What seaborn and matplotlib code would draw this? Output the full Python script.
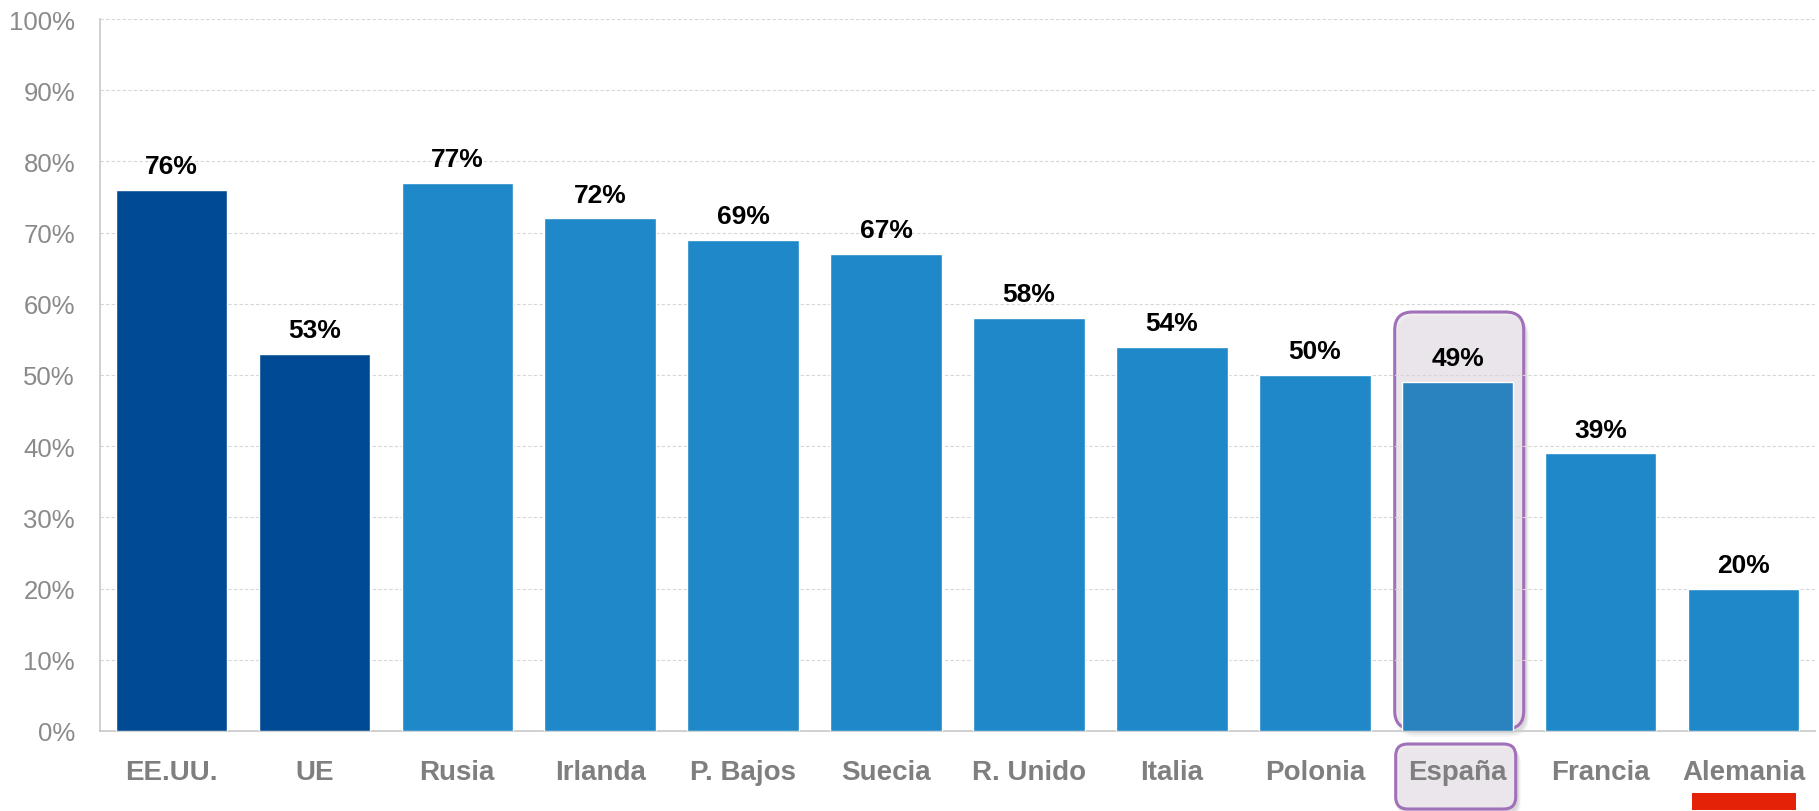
import matplotlib
matplotlib.use("Agg")
import matplotlib.pyplot as plt
import seaborn as sns
import numpy as np
from matplotlib.patches import FancyBboxPatch, Rectangle
from matplotlib.ticker import FuncFormatter, MultipleLocator

countries = ["EE.UU.", "UE", "Rusia", "Irlanda", "P. Bajos", "Suecia",
             "R. Unido", "Italia", "Polonia", "España", "Francia", "Alemania"]
values = [76, 53, 77, 72, 69, 67, 58, 54, 50, 49, 39, 20]

DARK = "#004A93"
LIGHT = "#1F88C8"
SPAIN = "#2A82BE"
bar_colors = [DARK, DARK] + [LIGHT] * 7 + [SPAIN] + [LIGHT] * 2

sns.set_theme(style="white")
plt.rcParams["font.family"] = ["Liberation Sans", "DejaVu Sans"]

W, H, DPI = 1819, 812, 100
fig = plt.figure(figsize=(W / DPI, H / DPI), dpi=DPI)
ax = fig.add_axes([100 / W, 1 - 732 / H, (1815 - 100) / W, (732 - 20) / H])

sns.barplot(x=countries, y=values, hue=countries, palette=bar_colors,
            legend=False, width=0.78, saturation=1, ax=ax, zorder=3)

ax.set_ylim(0, 100)
ax.set_xlim(-0.5, len(countries) - 0.5)
ax.yaxis.set_major_locator(MultipleLocator(10))
ax.yaxis.set_major_formatter(FuncFormatter(lambda v, _: f"{v:.0f}%"))
ax.set_xlabel("")
ax.set_ylabel("")

ax.grid(axis="y", color="#D6D6D6", linestyle=(0, (3, 2)), linewidth=0.8, zorder=0)
ax.grid(axis="x", visible=False)
for side in ["top", "right"]:
    ax.spines[side].set_visible(False)
for side in ["left", "bottom"]:
    ax.spines[side].set_color("#C8C8C8")
    ax.spines[side].set_linewidth(1.2)

ax.tick_params(axis="y", length=0, pad=18, labelsize=18.5, labelcolor="#8A8A8A")
ax.tick_params(axis="x", length=0, pad=20, labelsize=20, labelcolor="#7F7F7F")
for lbl in ax.get_xticklabels():
    lbl.set_fontweight("bold")

for i, v in enumerate(values):
    ax.annotate(f"{v}%", xy=(i, v), xytext=(0, 12), textcoords="offset points",
                ha="center", va="baseline", fontsize=19, fontweight="bold",
                color="black", zorder=6)

# Highlight boxes around Spain (bar and tick label), drawn in pixel space
to_px = ax.transData.transform
idx = countries.index("España")
cx = to_px((idx, 0))[0]


def rounded_box(x0, y0, x1, y1, r, face, edge, z):
    # y in pixels from the top of the figure
    box = FancyBboxPatch((x0 + r, H - y1 + r), (x1 - x0) - 2 * r, (y1 - y0) - 2 * r,
                         boxstyle=f"round,pad={r}", transform=None,
                         facecolor=face, edgecolor=edge, linewidth=2.2, zorder=z)
    fig.add_artist(box)
    # soft shadow
    for k, a in enumerate([0.06, 0.05, 0.04]):
        sh = FancyBboxPatch((x0 + r + 3, H - y1 + r - 4 - k), (x1 - x0) - 2 * r,
                            (y1 - y0) - 2 * r, boxstyle=f"round,pad={r + k}",
                            transform=None, facecolor="black", edgecolor="none",
                            alpha=a, zorder=z - 0.5)
        fig.add_artist(sh)


rounded_box(cx - 63, 313, cx + 66, 730, 18, (0.93, 0.91, 0.93, 0.85), "#A070B8", 1)
rounded_box(cx - 62, 745, cx + 58, 810, 12, (0.93, 0.91, 0.93, 0.9), "#A070B8", 1)

# Red underline beneath the last category label
cx_last = to_px((len(countries) - 1, 0))[0]
fig.add_artist(Rectangle((cx_last - 52, H - 811), 104, 17, transform=None,
                         facecolor="#E32208", edgecolor="none", zorder=2))

# keep the Spain bar and labels above the highlight box
ax.set_zorder(2)
ax.patch.set_alpha(0)

fig.savefig("out.png", dpi=DPI)
